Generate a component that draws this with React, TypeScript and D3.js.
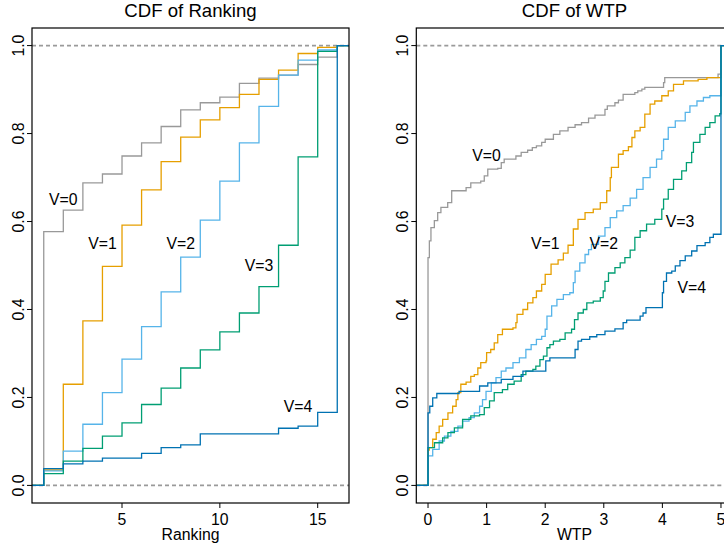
import React, { useEffect, useRef } from 'react'
import * as d3 from 'd3'

// ---- data ----
const seriesNames = ['V=0', 'V=1', 'V=2', 'V=3', 'V=4']
const colors = ['#999999', '#E69F00', '#56B4E9', '#009E73', '#0072B2']

const rankings = [1, 2, 3, 4, 5, 6, 7, 8, 9, 10, 11, 12, 13, 14, 15, 16]
const rankV0 = [0.577, 0.626, 0.688, 0.708, 0.749, 0.779, 0.816, 0.854, 0.870, 0.883, 0.914, 0.926, 0.933, 0.957, 0.974, 1]
const rankV1 = [0.035, 0.230, 0.374, 0.498, 0.592, 0.672, 0.736, 0.792, 0.831, 0.859, 0.889, 0.923, 0.944, 0.982, 0.996, 1]
const rankV2 = [0.033, 0.078, 0.139, 0.211, 0.287, 0.361, 0.440, 0.519, 0.603, 0.692, 0.779, 0.862, 0.933, 0.967, 0.990, 1]
const rankV3 = [0.027, 0.055, 0.084, 0.112, 0.142, 0.184, 0.221, 0.267, 0.308, 0.349, 0.392, 0.452, 0.546, 0.747, 0.987, 1]
const rankV4 = [0.038, 0.049, 0.055, 0.062, 0.062, 0.073, 0.086, 0.092, 0.117, 0.117, 0.117, 0.117, 0.130, 0.135, 0.166, 1]

const wtpV0 = [
  [0, 0.518], [0.023, 0.556], [0.05, 0.586], [0.108, 0.602], [0.165, 0.620], [0.22, 0.632], [0.336, 0.643],
  [0.404, 0.670], [0.65, 0.677], [0.73, 0.688], [0.90, 0.692], [0.96, 0.704], [1.02, 0.719], [1.19, 0.721],
  [1.25, 0.734], [1.30, 0.742], [1.50, 0.749], [1.59, 0.757], [1.70, 0.762], [1.78, 0.768], [1.85, 0.772],
  [1.94, 0.780], [2.0, 0.787], [2.14, 0.798], [2.25, 0.806], [2.39, 0.814], [2.51, 0.820], [2.62, 0.825],
  [2.74, 0.835], [2.85, 0.842], [3.02, 0.855], [3.06, 0.863], [3.19, 0.870], [3.25, 0.876], [3.33, 0.889],
  [3.53, 0.893], [3.58, 0.897], [3.65, 0.901], [3.70, 0.905], [4.02, 0.916], [4.04, 0.927], [4.95, 0.935], [5, 1]
]
const wtpV1 = [
  [0, 0.080], [0.02, 0.086], [0.08, 0.105], [0.14, 0.120], [0.19, 0.135], [0.25, 0.150], [0.34, 0.165],
  [0.42, 0.180], [0.48, 0.195], [0.51, 0.211], [0.56, 0.230], [0.65, 0.235], [0.73, 0.248], [0.79, 0.252],
  [0.85, 0.267], [0.90, 0.279], [0.99, 0.283], [1.00, 0.302], [1.07, 0.309], [1.13, 0.324], [1.19, 0.343],
  [1.27, 0.355], [1.45, 0.358], [1.50, 0.370], [1.52, 0.389], [1.62, 0.400], [1.70, 0.415], [1.79, 0.427],
  [1.85, 0.442], [1.94, 0.457], [2.0, 0.480], [2.10, 0.503], [2.22, 0.513], [2.31, 0.528], [2.39, 0.546],
  [2.48, 0.583], [2.56, 0.605], [2.68, 0.620], [2.82, 0.628], [2.94, 0.643], [3.05, 0.670], [3.11, 0.700],
  [3.13, 0.723], [3.25, 0.753], [3.33, 0.761], [3.42, 0.770], [3.48, 0.791], [3.53, 0.806], [3.62, 0.814],
  [3.70, 0.844], [3.79, 0.867], [3.87, 0.874], [3.99, 0.886], [4.10, 0.897], [4.19, 0.912], [4.36, 0.920],
  [4.61, 0.923], [4.76, 0.927], [5, 1]
]
const wtpV2 = [
  [0, 0.067], [0.08, 0.082], [0.19, 0.101], [0.28, 0.112], [0.39, 0.123], [0.51, 0.135], [0.59, 0.146],
  [0.70, 0.154], [0.79, 0.165], [0.88, 0.180], [0.93, 0.195], [0.99, 0.214], [1.08, 0.233], [1.16, 0.245],
  [1.25, 0.260], [1.33, 0.267], [1.45, 0.279], [1.56, 0.290], [1.67, 0.309], [1.76, 0.320], [1.85, 0.332],
  [1.94, 0.339], [2.0, 0.355], [2.03, 0.385], [2.11, 0.408], [2.20, 0.423], [2.31, 0.434], [2.42, 0.438],
  [2.48, 0.461], [2.51, 0.487], [2.59, 0.506], [2.68, 0.525], [2.74, 0.536], [2.79, 0.548], [2.91, 0.567],
  [3.02, 0.586], [3.11, 0.609], [3.22, 0.624], [3.33, 0.636], [3.45, 0.653], [3.56, 0.673], [3.67, 0.700],
  [3.79, 0.723], [3.90, 0.742], [3.99, 0.761], [4.02, 0.787], [4.10, 0.814], [4.22, 0.829], [4.39, 0.848],
  [4.47, 0.863], [4.59, 0.874], [4.70, 0.882], [4.81, 0.886], [5, 1]
]
const wtpV3 = [
  [0, 0.086], [0.11, 0.097], [0.25, 0.108], [0.34, 0.120], [0.45, 0.131], [0.59, 0.150], [0.73, 0.158],
  [0.88, 0.161], [0.96, 0.177], [1.05, 0.192], [1.13, 0.211], [1.27, 0.218], [1.36, 0.230], [1.47, 0.237],
  [1.59, 0.252], [1.67, 0.260], [1.79, 0.264], [1.84, 0.271], [1.91, 0.286], [1.97, 0.294], [2.03, 0.313],
  [2.08, 0.320], [2.14, 0.328], [2.25, 0.332], [2.34, 0.347], [2.45, 0.355], [2.50, 0.377], [2.56, 0.392],
  [2.65, 0.400], [2.71, 0.415], [2.82, 0.419], [2.94, 0.427], [2.99, 0.442], [3.02, 0.464], [3.08, 0.483],
  [3.19, 0.495], [3.28, 0.506], [3.36, 0.518], [3.45, 0.535], [3.53, 0.564], [3.62, 0.579], [3.73, 0.594],
  [3.87, 0.605], [3.99, 0.628], [4.02, 0.651], [4.10, 0.673], [4.19, 0.696], [4.33, 0.715], [4.41, 0.734],
  [4.50, 0.757], [4.53, 0.780], [4.64, 0.798], [4.73, 0.814], [4.81, 0.825], [4.90, 0.840], [4.98, 0.845], [5, 1]
]
const wtpV4 = [
  [0, 0.165], [0.03, 0.180], [0.08, 0.199], [0.15, 0.209], [0.53, 0.214], [0.88, 0.226], [1.02, 0.233],
  [1.25, 0.241], [1.45, 0.248], [1.62, 0.260], [2.01, 0.283], [2.08, 0.290], [2.51, 0.309], [2.56, 0.328],
  [2.62, 0.332], [2.76, 0.338], [2.88, 0.343], [3.02, 0.351], [3.19, 0.356], [3.33, 0.370], [3.39, 0.376],
  [3.62, 0.385], [3.67, 0.392], [3.72, 0.404], [4.00, 0.438], [4.02, 0.464], [4.07, 0.483], [4.16, 0.487],
  [4.22, 0.499], [4.30, 0.511], [4.39, 0.522], [4.50, 0.533], [4.59, 0.545], [4.73, 0.552], [4.81, 0.564],
  [4.87, 0.571], [5, 1]
]

const rankTicks = [5, 10, 15]
const wtpTicks = [0, 1, 2, 3, 4, 5]
const cdfTicks = [0, 0.2, 0.4, 0.6, 0.8, 1.0]

// where the V=.. labels sit, in data units
const rankLabelX = [2, 4, 8, 12, 14]
const rankLabelY = [0.65, 0.55, 0.55, 0.5, 0.18]
const wtpLabelX = [1, 2, 3, 4.3, 4.5]
const wtpLabelY = [0.75, 0.55, 0.55, 0.6, 0.45]

const FONT = '"Liberation Sans", Arial, Helvetica, sans-serif'

function drawPanel(svg, opts) {
  const { id, left, right, top, bottom, xDomain, title, xLabel, xTicks, series, labelX, labelY } = opts

  const x = d3.scaleLinear().domain(xDomain).range([left, right])
  const y = d3.scaleLinear().domain([-0.04, 1.04]).range([bottom, top])

  const g = svg.append('g')

  g.append('clipPath').attr('id', id)
    .append('rect')
    .attr('x', left).attr('y', top)
    .attr('width', right - left).attr('height', bottom - top)

  // 0 / 1 reference lines
  g.selectAll('line.ref')
    .data([0, 1])
    .enter()
    .append('line')
    .attr('class', 'ref')
    .attr('x1', left).attr('x2', right)
    .attr('y1', d => y(d)).attr('y2', d => y(d))
    .attr('stroke', '#9a9a9a')
    .attr('stroke-width', 1.6)
    .attr('stroke-dasharray', '4,3')

  // step lines
  const line = d3.line()
    .x(d => x(d[0]))
    .y(d => y(d[1]))
    .curve(d3.curveStepAfter)

  g.append('g')
    .attr('clip-path', `url(#${id})`)
    .selectAll('path')
    .data(series)
    .enter()
    .append('path')
    .attr('fill', 'none')
    .attr('stroke', (d, i) => colors[i])
    .attr('stroke-width', 1.3)
    .attr('d', d => line([[xDomain[0], 0], ...d, [xDomain[1], 1]]))

  // box
  g.append('rect')
    .attr('x', left).attr('y', top)
    .attr('width', right - left).attr('height', bottom - top)
    .attr('fill', 'none')
    .attr('stroke', '#000')
    .attr('stroke-width', 1.2)

  // x axis
  g.selectAll('line.xtick')
    .data(xTicks)
    .enter()
    .append('line')
    .attr('x1', d => x(d)).attr('x2', d => x(d))
    .attr('y1', bottom).attr('y2', bottom + 5)
    .attr('stroke', '#000')
  g.selectAll('text.xtick')
    .data(xTicks)
    .enter()
    .append('text')
    .attr('x', d => x(d))
    .attr('y', 525)
    .attr('text-anchor', 'middle')
    .attr('font-size', 15.8)
    .text(d => d)

  // y axis
  g.selectAll('line.ytick')
    .data(cdfTicks)
    .enter()
    .append('line')
    .attr('x1', left).attr('x2', left - 5)
    .attr('y1', d => y(d)).attr('y2', d => y(d))
    .attr('stroke', '#000')
  g.selectAll('text.ytick')
    .data(cdfTicks)
    .enter()
    .append('text')
    .attr('transform', d => `translate(${left - 8}, ${y(d)}) rotate(-90)`)
    .attr('text-anchor', 'middle')
    .attr('font-size', 15.8)
    .text(d => d.toFixed(1))

  // titles
  g.append('text')
    .attr('x', (left + right) / 2).attr('y', 17)
    .attr('text-anchor', 'middle')
    .attr('font-size', 18.6)
    .text(title)
  g.append('text')
    .attr('x', (left + right) / 2).attr('y', 540)
    .attr('text-anchor', 'middle')
    .attr('font-size', 15.8)
    .text(xLabel)

  // series labels
  g.selectAll('text.lab')
    .data(seriesNames)
    .enter()
    .append('text')
    .attr('x', (d, i) => x(labelX[i]))
    .attr('y', (d, i) => y(labelY[i]))
    .attr('dy', '0.36em')
    .attr('text-anchor', 'middle')
    .attr('font-size', 15.8)
    .text(d => d)
}

export default function App() {
  const ref = useRef(null)

  useEffect(() => {
    const svg = d3.select(ref.current)
    svg.selectAll('*').remove()

    const rankSeries = [rankV0, rankV1, rankV2, rankV3, rankV4]
      .map(vals => rankings.map((r, i) => [r, vals[i]]))

    drawPanel(svg, {
      id: 'clipRank',
      left: 32, right: 349, top: 28, bottom: 503,
      xDomain: [0.4, 16.6],
      title: 'CDF of Ranking',
      xLabel: 'Ranking',
      xTicks: rankTicks,
      series: rankSeries,
      labelX: rankLabelX,
      labelY: rankLabelY
    })

    drawPanel(svg, {
      id: 'clipWtp',
      left: 416.3, right: 732.7, top: 28, bottom: 503,
      xDomain: [-0.2, 5.2],
      title: 'CDF of WTP',
      xLabel: 'WTP',
      xTicks: wtpTicks,
      series: [wtpV0, wtpV1, wtpV2, wtpV3, wtpV4],
      labelX: wtpLabelX,
      labelY: wtpLabelY
    })
  }, [])

  return (
    <svg
      ref={ref}
      width={724}
      height={550}
      style={{ position: 'absolute', left: 0, top: 0, background: '#fff', fontFamily: FONT }}
    />
  )
}
